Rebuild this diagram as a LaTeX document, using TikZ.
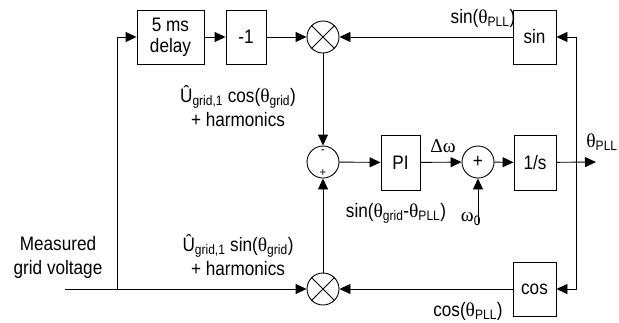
\documentclass[tikz,border=0pt]{standalone}
\usepackage{amsmath}
\usepackage{fontspec}
\setmainfont{Liberation Sans}[FakeStretch=0.88]
\newfontfamily\greekfont{Liberation Serif}
\newcommand\gk[1]{{\greekfont #1}}
\usetikzlibrary{arrows.meta}

\begin{document}
\begin{tikzpicture}[
  x=1pt, y=-1pt,
  line width=0.9pt,
  font=\fontsize{19.5}{24}\selectfont,
  block/.style={draw, minimum height=54pt, inner sep=0pt, fill=white},
  mult/.style={draw, circle, minimum size=32pt, inner sep=0pt, fill=white},
  arrow/.style={-{Triangle[length=11pt,width=10pt]}},
  lbl/.style={align=center, inner sep=0pt},
  sign/.style={inner sep=0pt, font=\fontsize{12}{12}\selectfont}
]
\useasboundingbox (0,0) rectangle (619,322);

% blocks
\node[block, minimum width=67pt, align=center, font=\fontsize{19.5}{21}\selectfont] (delay) at (170.5,37) {5 ms\\delay};
\node[block, minimum width=40pt] (neg) at (246,37) {-1};
\node[mult] (mulA) at (323,37) {};
\node[block, minimum width=43pt] (sinb) at (534.5,37) {sin};
\node[mult] (sum) at (323,162) {};
\node[block, minimum width=39pt, minimum height=55pt] (pi) at (400.5,162.5) {PI};
\node[mult] (add) at (478,162) {+};
\node[block, minimum width=42pt, minimum height=55pt] (integ) at (535,162.5) {1/s};
\node[mult] (mulB) at (323,289) {};
\node[block, minimum width=43pt] (cosb) at (534.5,289) {cos};

\node[sign] (minus) at (323,152) {-};
\node[sign] (plus) at (323,173) {+};

\draw (mulA.45) -- (mulA.225) (mulA.135) -- (mulA.315);
\draw (mulB.45) -- (mulB.225) (mulB.135) -- (mulB.315);

\coordinate (in) at (65,289);
\coordinate (tap) at (117,289);
\coordinate (split) at (576,162);
\coordinate (out) at (596,162);
\coordinate (w0) at (478,224);

% connectors
\draw[arrow] (in) -- (mulB);
\draw[arrow] (tap) |- (delay);
\draw[arrow] (delay) -- (neg);
\draw[arrow] (neg) -- (mulA);
\draw[arrow] (sinb) -- (mulA);
\draw[arrow] (mulA) -- (sum);
\draw[arrow] (mulB) -- (sum);
\draw[arrow] (sum) -- (pi);
\draw[arrow] (pi) -- (add);
\draw[arrow] (add) -- (integ);
\draw[arrow] (integ) -- (out);
\draw[arrow] (w0) -- (add);
\draw[arrow] (split) |- (sinb);
\draw[arrow] (split) |- (cosb);
\draw[arrow] (cosb) -- (mulB);

% labels
\node[lbl] (ucos) at (238,106) {\^{U}$_{\text{grid,1}}$ cos(\gk{θ}$_{\text{grid}}$)\\+ harmonics};
\node[lbl] (usin) at (238,255) {\^{U}$_{\text{grid,1}}$ sin(\gk{θ}$_{\text{grid}}$)\\+ harmonics};
\node[lbl] (meas) at (58,257) {Measured\\grid voltage};
\node[lbl] (sinpll) at (483,18) {sin(\gk{θ}$_{\text{PLL}}$)};
\node[lbl] (cospll) at (468,311) {cos(\gk{θ}$_{\text{PLL}}$)};
\node[lbl] (dw) at (443,146) {\gk{Δω}};
\node[lbl] (thout) at (602,142) {\gk{θ}$_{\text{PLL}}$};
\node[lbl] (err) at (396,213) {sin(\gk{θ}$_{\text{grid}}$-\gk{θ}$_{\text{PLL}}$)};
\node[lbl] (omega) at (471,219) {\gk{ω}$_{\text{0}}$};

\end{tikzpicture}
\end{document}
